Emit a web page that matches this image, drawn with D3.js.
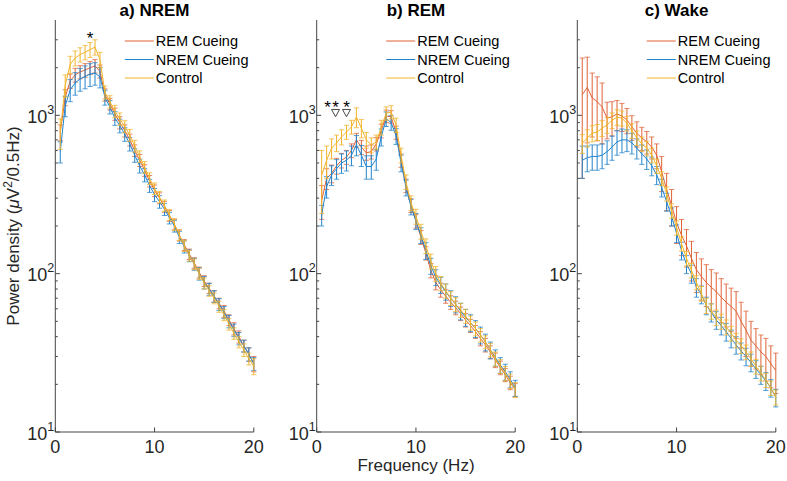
<!DOCTYPE html>
<html>
<head>
<meta charset="utf-8">
<script src="https://cdn.jsdelivr.net/npm/d3@7"></script>
<style>
  html, body { margin: 0; padding: 0; background: #fff; }
  svg { display: block; font-family: "Liberation Sans", Arial, Helvetica, sans-serif; }
</style>
</head>
<body>
<svg id="chart" width="787" height="481"></svg>
<script>
// ---------------- DATA ----------------
const freqs = [0.5,1,1.5,2,2.5,3,3.5,4,4.5,5,5.5,6,6.5,7,7.5,8,8.5,9,9.5,10,
               10.5,11,11.5,12,12.5,13,13.5,14,14.5,15,15.5,16,16.5,17,17.5,18,18.5,19,19.5,20];

const seriesNames = ["REM Cueing", "NREM Cueing", "Control"];
const seriesColors = ["#DF6236", "#2183CC", "#F0B42A"];

const panelTitles = ["a) NREM", "b) REM", "c) Wake"];

// a) NREM
const nremRemCueing  = [780,1300,1650,1800,1880,1930,2000,2050,1900,1350,1180,1020,900,800,700,600,520,450,385,335,300,265,232,205,175,152,133,117,102,90,81,72,65,58,51,45,40,35,31,27];
const nremNremCueing = [590,1150,1450,1600,1700,1760,1820,1850,1750,1300,1130,960,860,760,660,560,480,420,360,315,285,255,225,200,170,148,130,115,100,88,80,72,64,57,50,44,39,35,31,27];
const nremControl    = [780,1550,2100,2300,2420,2500,2600,2700,2250,1400,1220,1060,950,850,750,640,550,470,400,345,305,270,235,205,175,150,130,115,100,87,78,70,62,55,48,42,37,33,29,26];
const nremRemCueingSem  = [90,150,170,180,180,190,190,200,180,120,100,90,80,70,60,50,45,38,32,28,24,21,18,16,14,12,10,9,8,7,6,6,5,5,4,4,3.5,3,3,3];
const nremNremCueingSem = [90,170,230,260,280,290,300,300,260,140,110,95,85,75,65,55,48,40,34,30,26,22,19,17,15,13,11,10,9,8,7,6,5.5,5,4.5,4,3.5,3,3,2.5];
const nremControlSem    = [170,250,260,250,250,260,280,300,250,130,110,95,85,75,65,55,47,40,34,29,25,22,19,17,14,12,10,9,8,7,6,5.5,5,4.5,4,3.5,3,3,2.5,3];

// b) REM
const remRemCueing  = [290,400,430,480,520,545,600,700,630,580,590,660,800,990,980,780,520,360,270,215,170,135,105,88,79,72,66,61,56,51,47,43,39,35.5,32,28.5,25.5,23,20.5,18.5];
const remNremCueing = [235,355,420,460,500,520,560,650,560,475,475,530,730,950,900,740,500,350,265,215,175,140,112,95,85,77,70,64,58,53,49,45,41,37,33,29.5,26.5,24,21.5,19];
const remControl    = [420,520,620,670,730,785,845,975,830,700,650,680,840,1030,1050,870,560,380,280,230,185,150,120,100,87,78,70,64,59,54,49,45,41,37,33,29,26,23.5,21,18.5];
const remRemCueingSem  = [70,60,55,55,55,55,60,70,65,60,60,65,80,90,90,75,50,35,27,21,17,13,11,9,8,7,6.5,6,5.5,5,4.5,4,4,3.5,3,3,2.5,2.2,2,1.8];
const remNremCueingSem = [35,55,60,65,70,75,80,95,85,80,80,80,90,100,95,85,60,40,30,25,20,17,13,11,10,9,8,7.5,7,6.5,6,5.5,5,4.5,4,3.5,3,2.8,2.5,2.2];
const remControlSem    = [180,120,90,80,80,80,85,140,110,80,70,70,90,100,100,90,60,40,30,25,20,16,13,11,9,8,7,6.5,6,5.5,5,4.5,4,3.5,3.2,3,2.6,2.4,2.2,2];

// c) Wake
const wakeRemCueing  = [1350,1500,1290,1220,1130,960,980,1020,990,935,845,770,720,680,630,560,440,340,270,210,175,150,125,106,96,88,82,77,71,66,62,58,50,44,38,35,32,30,27,24.5];
const wakeNremCueing = [520,540,550,550,560,590,630,680,700,700,670,620,570,530,480,420,350,285,230,180,140,115,100,82,74,63,57,51,47,43,39,35.5,32.5,30,27.5,25,23,21,19,16.5];
const wakeControl    = [665,720,770,785,830,870,930,975,960,890,800,720,660,620,560,480,400,320,250,195,155,125,105,88,75,63,58,53,50,46,42,38,35,32,29,26,23.5,21.3,19,16.6];
const wakeRemCueingSem  = [950,830,560,530,470,250,240,220,200,170,150,140,120,110,100,100,110,90,70,55,45,40,35,30,28,26,24,24,22,20,19,19,16,14,12,10,9,9,8,7];
const wakeNremCueingSem = [120,100,100,100,100,100,110,120,120,110,100,90,80,75,65,55,45,37,30,23,18,15,13,11,9.5,8,7.5,6.5,6,5.5,5,4.5,4,3.8,3.5,3.2,3,2.7,2.4,2.1];
const wakeControlSem    = [90,90,90,90,95,100,105,110,105,95,85,75,70,65,60,50,40,33,26,20,16,13,11,9,8,7,6.5,6,5.5,5,4.5,4,3.7,3.4,3,2.8,2.5,2.2,2,1.8];

// significance stars: [panel index, frequency, value]
const starMarks = [
  [0, 3.5, 3200],
  [1, 1.1, 1180],
  [1, 1.9, 1180],
  [1, 3.0, 1180]
];
// open downward-triangle markers: [panel index, frequency, value]
const triangleMarks = [
  [1, 1.9, 1035],
  [1, 3.0, 1035]
];

const xTicks = [0, 10, 20];
const yMajorTicks = [10, 100, 1000];
const yMinorTicks = [20,30,40,50,60,70,80,90,200,300,400,500,600,700,800,900,2000,3000];

// ---------------- BUILD ----------------
const panels = [
  { means: [nremRemCueing, nremNremCueing, nremControl], sems: [nremRemCueingSem, nremNremCueingSem, nremControlSem] },
  { means: [remRemCueing, remNremCueing, remControl],    sems: [remRemCueingSem, remNremCueingSem, remControlSem] },
  { means: [wakeRemCueing, wakeNremCueing, wakeControl], sems: [wakeRemCueingSem, wakeNremCueingSem, wakeControlSem] }
];

const svg = d3.select("#chart");
const axisColor = "#444";
const panelLeft = [55.3, 316.7, 577.3];
const panelW = 198.5;
const yTop = 20, yBottom = 432;

panels.forEach((p, pi) => {
  const x0 = panelLeft[pi];
  const x = d3.scaleLinear().domain([0, 20]).range([x0, x0 + panelW]);
  const y = d3.scaleLog().domain([10, 4000]).range([yBottom, yTop]);
  const g = svg.append("g");

  // series
  p.means.forEach((vals, si) => {
    const col = seriesColors[si];
    const sems = p.sems[si];
    const sg = g.append("g");
    const line = d3.line().x((d, i) => x(freqs[i])).y(d => y(d));
    sg.append("path").datum(vals).attr("d", line)
      .attr("fill", "none").attr("stroke", col).attr("stroke-width", 1);
    vals.forEach((v, i) => {
      const xx = x(freqs[i]);
      const hi = v + sems[i];
      const lo = Math.max(v - sems[i], 10.5);
      const yh = y(hi), yl = y(lo);
      sg.append("line").attr("x1", xx).attr("x2", xx).attr("y1", yh).attr("y2", yl)
        .attr("stroke", col).attr("stroke-width", 1);
      [yh, yl].forEach(yy => {
        sg.append("line").attr("x1", xx - 2.6).attr("x2", xx + 2.6).attr("y1", yy).attr("y2", yy)
          .attr("stroke", col).attr("stroke-width", 1).attr("opacity", 0.75);
      });
    });
  });

  // axes
  g.append("line").attr("x1", x0).attr("x2", x0).attr("y1", yTop).attr("y2", yBottom)
    .attr("stroke", axisColor).attr("stroke-width", 1);
  g.append("line").attr("x1", x0).attr("x2", x0 + panelW).attr("y1", yBottom).attr("y2", yBottom)
    .attr("stroke", axisColor).attr("stroke-width", 1);

  yMajorTicks.forEach(t => {
    const yy = y(t);
    g.append("line").attr("x1", x0).attr("x2", x0 + 4.5).attr("y1", yy).attr("y2", yy)
      .attr("stroke", axisColor).attr("stroke-width", 1);
    const exp = Math.round(Math.log10(t));
    const tx = g.append("text").attr("x", x0 - 1).attr("y", yy + 7.5)
      .attr("text-anchor", "end").attr("font-size", 18).attr("fill", "#262626");
    tx.append("tspan").text("10");
    tx.append("tspan").attr("dy", -9).attr("font-size", 12.5).text(String(exp));
  });
  yMinorTicks.forEach(t => {
    const yy = y(t);
    g.append("line").attr("x1", x0).attr("x2", x0 + 2.5).attr("y1", yy).attr("y2", yy)
      .attr("stroke", axisColor).attr("stroke-width", 1);
  });
  xTicks.forEach(t => {
    const xx = x(t);
    g.append("line").attr("x1", xx).attr("x2", xx).attr("y1", yBottom).attr("y2", yBottom - 4.5)
      .attr("stroke", axisColor).attr("stroke-width", 1);
    g.append("text").attr("x", xx).attr("y", yBottom + 21).attr("text-anchor", "middle")
      .attr("font-size", 18).attr("fill", "#262626").text(t);
  });

  // title
  g.append("text").attr("x", x0 + panelW / 2).attr("y", 16).attr("text-anchor", "middle")
    .attr("font-size", 17).attr("font-weight", "bold").attr("fill", "#000").text(panelTitles[pi]);

  // legend
  const right = x0 + panelW;
  seriesNames.forEach((name, si) => {
    const ly = 41 + si * 18.5;
    g.append("line").attr("x1", right - 129).attr("x2", right - 100).attr("y1", ly).attr("y2", ly)
      .attr("stroke", seriesColors[si]).attr("stroke-width", 1);
    g.append("text").attr("x", right - 98).attr("y", ly + 5).attr("font-size", 14.5)
      .attr("fill", "#000").text(name);
  });

  // significance stars
  starMarks.filter(m => m[0] === pi).forEach(m => {
    g.append("text").attr("x", x(m[1])).attr("y", y(m[2]) + 9)
      .attr("text-anchor", "middle").attr("font-size", 17)
      .attr("fill", "#000").text("*");
  });
  // open triangle markers
  triangleMarks.filter(m => m[0] === pi).forEach(m => {
    const cx = x(m[1]), cy = y(m[2]);
    g.append("path")
      .attr("d", `M${cx - 4},${cy - 3.5}L${cx + 4},${cy - 3.5}L${cx},${cy + 3.8}Z`)
      .attr("fill", "none").attr("stroke", "#333").attr("stroke-width", 0.9);
  });
});

// axis labels
svg.append("text").attr("x", 416).attr("y", 471).attr("text-anchor", "middle")
  .attr("font-size", 17).attr("fill", "#262626").text("Frequency (Hz)");

const ylab = svg.append("text").attr("transform", "translate(19,226) rotate(-90)")
  .attr("text-anchor", "middle").attr("font-size", 17).attr("fill", "#262626");
ylab.append("tspan").text("Power density (");
ylab.append("tspan").attr("font-style", "italic").text("\u03BC");
ylab.append("tspan").text("V");
ylab.append("tspan").attr("dy", -7).attr("font-size", 12).text("2");
ylab.append("tspan").attr("dy", 7).text("/0.5Hz)");
</script>
</body>
</html>
